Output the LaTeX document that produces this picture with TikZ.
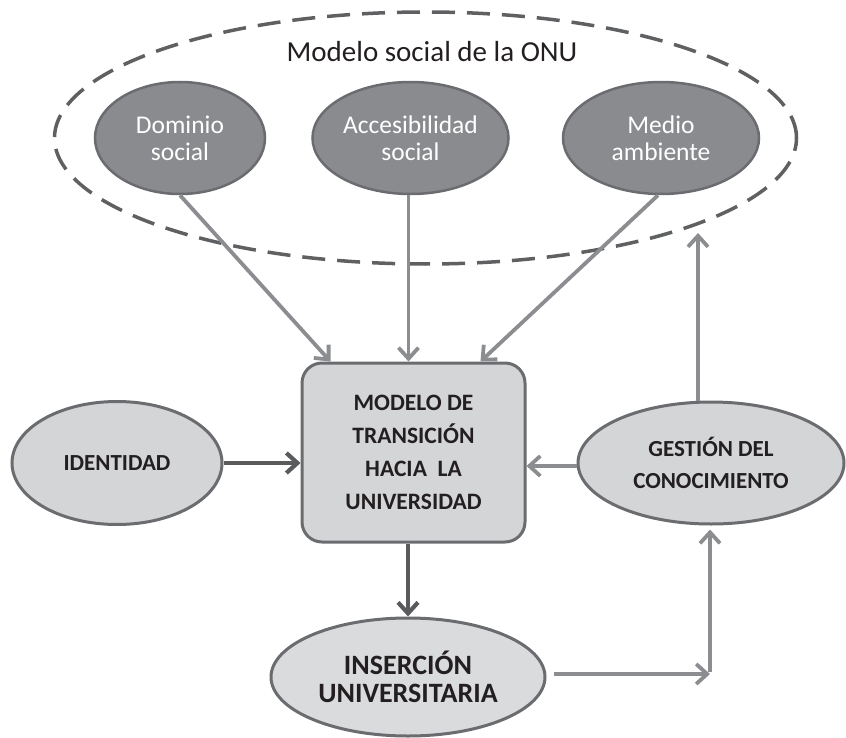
\documentclass[tikz,border=0pt]{standalone}
\usepackage{fontspec}
\setmainfont{Carlito}
\usetikzlibrary{shapes.geometric,arrows.meta}
\definecolor{darkfill}{HTML}{8A8B8E}
\definecolor{edgec}{HTML}{6B6C6F}
\definecolor{lightfill}{HTML}{D4D5D7}
\definecolor{insfill}{HTML}{DADBDD}
\definecolor{arrowlight}{HTML}{8C8D90}
\definecolor{arrowdark}{HTML}{5A5B5D}
\definecolor{dashc}{HTML}{5F6062}
\definecolor{txt}{HTML}{231F20}
\begin{document}
\begin{tikzpicture}[x=1pt,y=-1pt,
  darkell/.style={ellipse, draw=edgec, fill=darkfill, line width=2.5pt, inner sep=0pt,
    text=white, font=\fontsize{25.5}{27}\selectfont, align=center, minimum height=112pt},
  lightell/.style={ellipse, draw=edgec, fill=lightfill, line width=3pt, inner sep=0pt,
    text=txt, font=\bfseries\fontsize{23}{32}\selectfont, align=center},
  la/.style={draw=arrowlight, line width=3.8pt, -{Straight Barb[length=11pt,width=20pt]}},
  da/.style={draw=arrowdark, line width=4.2pt, -{Straight Barb[length=11pt,width=20pt]}}
]
\useasboundingbox (0,0) rectangle (846,738);

% dashed outer ellipse
\node[ellipse, draw=dashc, line width=3.5pt, dash pattern=on 23pt off 12pt,
      minimum width=742pt, minimum height=252pt, inner sep=0pt] (onu) at (425.5,138) {};
\node[text=txt, font=\fontsize{29}{31}\selectfont] (title) at (432,52) {Modelo social de la ONU};

\node[darkell, minimum width=170pt] (dom) at (180,138) {Dominio\\social};
\node[darkell, minimum width=196pt] (acc) at (410.5,138) {Accesibilidad\\social};
\node[darkell, minimum width=196pt] (med) at (661,138) {Medio\\ambiente};

% central box
\node[draw=edgec, fill=lightfill, line width=3pt, rounded corners=20pt,
      minimum width=223pt, minimum height=179pt, inner sep=0pt,
      text=txt, font=\bfseries\fontsize{23.5}{33}\selectfont, align=center]
      (box) at (413.5,452.5) {MODELO DE\\TRANSICIÓN\\HACIA\ \ LA\\UNIVERSIDAD};

\node[lightell, minimum width=210pt, minimum height=123pt] (iden) at (117,463) {IDENTIDAD};
\node[lightell, minimum width=266pt, minimum height=122pt] (ges) at (711,463) {GESTIÓN DEL\\CONOCIMIENTO};
\node[lightell, fill=insfill, minimum width=274pt, minimum height=118pt,
      font=\bfseries\fontsize{28}{28}\selectfont] (ins) at (408,677) {INSERCIÓN\\UNIVERSITARIA};

% arrows from the UN model
\draw[la] (dom.south) -- ([xshift=-83pt]box.north);
\draw[la] ([xshift=-2pt]acc.south) -- ([xshift=-5pt]box.north);
\draw[la] ([xshift=-3pt]med.south) -- ([xshift=67pt]box.north);

% identity -> box
\draw[da] (iden.east) -- (iden.east -| box.west);
% knowledge -> box
\coordinate (gw) at ([yshift=-3pt]ges.west);
\draw[la] (gw) -- (gw -| box.east);
% knowledge -> UN model
\coordinate (uptip) at (698,233);
\draw[la] (uptip |- ges.north) -- (uptip);
% box -> insertion
\draw[da] (box.south -| ins.north) -- (ins.north);
% insertion -> knowledge
\coordinate (corner) at (710,674);
\coordinate (hs) at ([xshift=7pt]ins.east);
\draw[la] (hs |- corner) -- (corner);
\draw[la] ([yshift=2pt]corner) -- ([yshift=-4pt]corner |- ges.south);
\end{tikzpicture}
\end{document}
